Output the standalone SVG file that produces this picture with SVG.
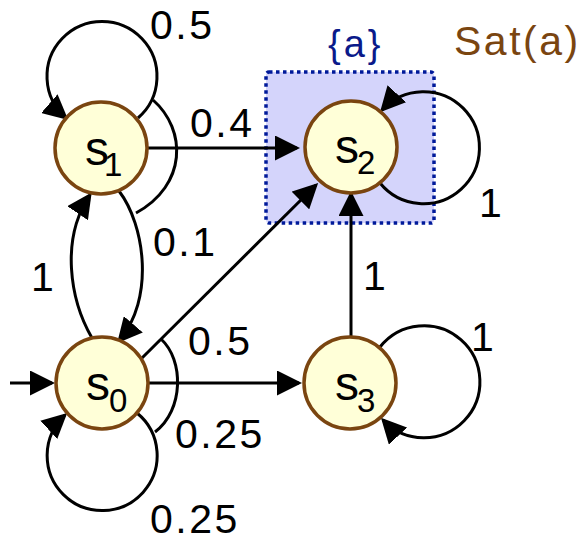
<svg xmlns="http://www.w3.org/2000/svg" width="582" height="539" viewBox="0 0 582 539">
<style>
.e{fill:none;stroke:#000;stroke-width:3}
.a{marker-end:url(#ah)}
.n{fill:#ffffd8;stroke:#7a4510;stroke-width:3.5}
.t{font-family:"Liberation Sans",Arial,sans-serif;font-size:41px;letter-spacing:2.5px;fill:#000}
.s{font-family:"Liberation Sans",Arial,sans-serif;font-size:48px;fill:#000}
.b{font-size:33px}
</style>
<defs>
<marker id="ah" markerUnits="userSpaceOnUse" markerWidth="25" markerHeight="25" refX="22" refY="12.5" orient="auto">
<path d="M0,0 L25,12.5 L0,25 z" fill="#000"/>
</marker>
</defs>
<g id="satbox">
<rect x="266" y="72" width="168" height="151" rx="3" fill="#d4d4fb" stroke="#001a9a" stroke-width="3.5" stroke-dasharray="3.5 3.5"/>
<text x="328" y="57" font-family="Liberation Sans,Arial,sans-serif" font-size="38" letter-spacing="3" fill="#0a1a8a">{a}</text>
<text x="454" y="55" class="t" style="fill:#7a4510">Sat(a)</text>
</g>
<g id="connectors">
<path class="e a" d="M138,118 A55,55 0 1 0 66,118"/>
<path class="e" d="M153,100 C187,130 187,185 136,213"/>
<path class="e a" d="M148,148 L297,148"/>
<path class="e a" d="M119,191 C145,225 155,299 119,341"/>
<path class="e a" d="M92,338 C70,300 60,239 90,195"/>
<path class="e a" d="M142,358 L316,185"/>
<path class="e" d="M161,339 C184,360 184,410 155,432"/>
<path class="e a" d="M137,413 A55,55 0 1 1 65,415"/>
<path class="e a" d="M10,383 L52,383"/>
<path class="e a" d="M148,383 L299,383"/>
<path class="e a" d="M351,337 L351,194"/>
<path class="e a" d="M380,183 A56,56 0 1 0 382,110"/>
<path class="e a" d="M380,347 A56,56 0 1 1 383,420"/>
<text class="t" x="150" y="39">0.5</text>
<text class="t" x="190" y="137">0.4</text>
<text class="t" x="153" y="256">0.1</text>
<text class="t" x="31" y="291">1</text>
<text class="t" x="188" y="355">0.5</text>
<text class="t" x="175" y="448">0.25</text>
<text class="t" x="150" y="533">0.25</text>
<text class="t" x="479" y="217">1</text>
<text class="t" x="363" y="290">1</text>
<text class="t" x="471" y="351">1</text>
</g>
<g id="s1">
<circle class="n" cx="101" cy="148" r="46"/>
<text class="s" x="85" y="165">s<tspan class="b" x="104" y="176">1</tspan></text>
</g>
<g id="s2">
<circle class="n" cx="351" cy="147" r="46"/>
<text class="s" x="335" y="163">s<tspan class="b" x="357" y="174">2</tspan></text>
</g>
<g id="s0">
<circle class="n" cx="102" cy="383" r="46"/>
<text class="s" x="86" y="400">s<tspan class="b" x="109" y="412">0</tspan></text>
</g>
<g id="s3">
<circle class="n" cx="350" cy="383" r="46"/>
<text class="s" x="335" y="400">s<tspan class="b" x="357" y="412">3</tspan></text>
</g>
</svg>
